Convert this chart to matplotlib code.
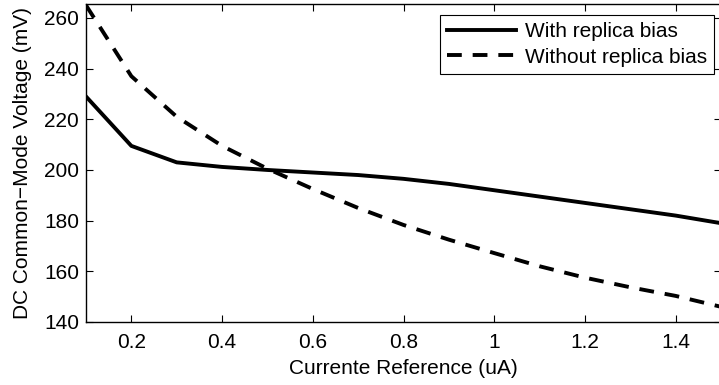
import matplotlib
matplotlib.use("Agg")
import matplotlib.pyplot as plt

x = [0.1, 0.2, 0.3, 0.4, 0.5, 0.6, 0.7, 0.8, 0.9, 1.0, 1.1, 1.2, 1.3, 1.4, 1.5]
with_bias = [229, 209.5, 203, 201.2, 200, 199, 198, 196.5, 194.5, 192, 189.5, 187, 184.5, 182, 179]
without_bias = [265, 237, 221, 209.5, 200.5, 192.5, 185, 178.3, 172.5, 167.2, 162, 157.5, 153.7, 150.3, 146]

xticks = [0.2, 0.4, 0.6, 0.8, 1.0, 1.2, 1.4]
xticklabels = ["0.2", "0.4", "0.6", "0.8", "1", "1.2", "1.4"]
yticks = [140, 160, 180, 200, 220, 240, 260]

plt.rcParams['font.family'] = ['Liberation Sans', 'DejaVu Sans']

fig = plt.figure(figsize=(7.19, 3.85), dpi=100)
ax = fig.add_axes([86/719, 1-322/385, (721-86)/719, (322-4)/385])

ax.plot(x, with_bias, color='black', lw=2.8, ls='-', label='With replica bias')
ax.plot(x, without_bias, color='black', lw=2.8, ls=(0, (3.8, 2.8)), label='Without replica bias')

ax.set_xlim(0.1, 1.5)
ax.set_ylim(140, 265.5)
ax.set_xticks(xticks)
ax.set_xticklabels(xticklabels)
ax.set_yticks(yticks)
ax.tick_params(direction='in', top=True, right=True, labelsize=15, length=5, width=0.8, pad=5)
ax.tick_params(axis='x', pad=8)
for s in ax.spines.values():
    s.set_linewidth(1.0)

ax.set_xlabel('Currente Reference (uA)', fontsize=15)
ax.set_ylabel('DC Common\u2212Mode Voltage (mV)', fontsize=15)
ax.xaxis.set_label_coords(0.5, (322-359)/318)
ax.yaxis.set_label_coords((32-86)/635, 0.5)

leg = ax.legend(loc='upper right', fontsize=15, frameon=True, fancybox=False,
                edgecolor='black', framealpha=1, handlelength=3.3,
                borderpad=0.35, labelspacing=0.3, handletextpad=0.4,
                borderaxespad=0, bbox_to_anchor=((714-86)/635, 1-(15-4)/318))
leg.get_frame().set_linewidth(0.8)

fig.savefig('out.png', dpi=100)
